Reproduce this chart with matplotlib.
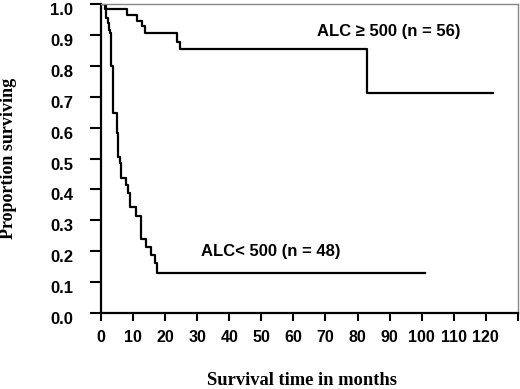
import matplotlib
matplotlib.use("Agg")
import matplotlib.pyplot as plt
import matplotlib.transforms as mtransforms

# Kaplan-Meier steps (months, proportion surviving)
high_times = [1.2, 8.2, 11.4, 12.8, 13.9, 23.6, 24.6, 83.1]
high_surv = [0.982, 0.964, 0.946, 0.927, 0.905, 0.878, 0.854, 0.713]
high_end = 122.2

low_times = [1.5, 2.1, 2.5, 2.8, 3.1, 3.7, 4.9, 5.4, 5.9, 6.4, 7.7, 8.5, 9.0,
             10.9, 12.5, 14.2, 15.5, 16.8, 17.5]
low_surv = [0.955, 0.938, 0.916, 0.906, 0.80, 0.646, 0.582, 0.506, 0.485, 0.437,
            0.414, 0.388, 0.343, 0.314, 0.239, 0.214, 0.188, 0.161, 0.131]
low_end = 101

x_ticks = list(range(0, 130, 10))
y_ticks = [i / 10 for i in range(11)]

sans = ["Liberation Sans", "DejaVu Sans"]
serif = ["Liberation Serif", "DejaVu Serif"]

fig = plt.figure(figsize=(5.2, 3.89), dpi=100)
ax = fig.add_axes([0.194, 0.195, 0.802, 0.795])

ax.step([0] + high_times + [high_end], [1.0] + high_surv + [high_surv[-1]],
        where="post", color="black", lw=1.6)
ax.step([0] + low_times + [low_end], [1.0] + low_surv + [low_surv[-1]],
        where="post", color="black", lw=1.6)

ax.text(89.7, 0.91, "ALC \u2265 500 (n = 56)", ha="center", va="center",
        fontsize=12, fontweight="bold", family=sans)
ax.text(53, 0.198, "ALC< 500 (n = 48)", ha="center", va="center",
        fontsize=12, fontweight="bold", family=sans)

ax.set_xlim(0, 130)
ax.set_ylim(0, 1.0)
ax.set_xticks(x_ticks + [130])
ax.set_xticklabels([str(t) for t in x_ticks] + [""])
ax.set_yticks(y_ticks)
ax.set_yticklabels(["%.1f" % t for t in y_ticks])

ax.tick_params(axis="y", direction="out", length=8, width=1.5, pad=12)
ax.tick_params(axis="x", direction="out", length=6, width=1.5, pad=6)

# y labels sit a few pixels below their ticks in the original
shift = mtransforms.ScaledTranslation(0, -0.05, fig.dpi_scale_trans)
for lab in ax.get_yticklabels():
    lab.set_family(sans)
    lab.set_fontweight("bold")
    lab.set_fontsize(12)
    lab.set_transform(lab.get_transform() + shift)
for lab in ax.get_xticklabels():
    lab.set_family(sans)
    lab.set_fontweight("bold")
    lab.set_fontsize(11.5)

for s in ["left", "bottom"]:
    ax.spines[s].set_linewidth(1.6)
    ax.spines[s].set_color("black")
for s in ["top", "right"]:
    ax.spines[s].set_linewidth(1.0)
    ax.spines[s].set_color("#888888")

ax.set_xlabel("Survival time in months", family=serif, fontweight="bold",
              fontsize=13.3)
ax.xaxis.set_label_coords(0.482, -0.19)
ax.set_ylabel("Proportion surviving", family=serif, fontweight="bold",
              fontsize=13)
ax.yaxis.set_label_coords(-0.2, 0.5)

fig.savefig("out.png", dpi=100)
